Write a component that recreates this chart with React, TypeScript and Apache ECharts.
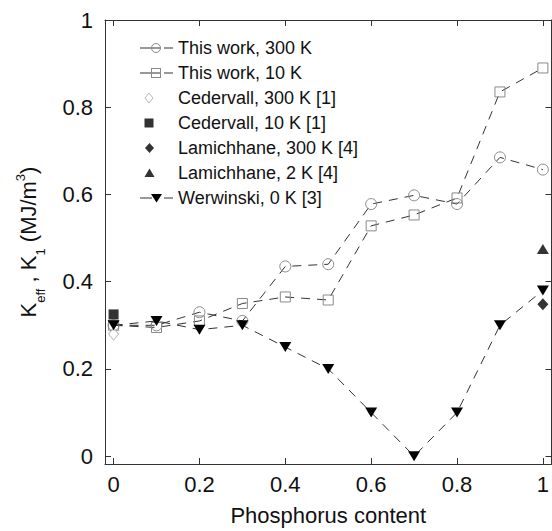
import React, { useEffect, useRef } from "react";
import * as echarts from "echarts";

const phosphorus = [0, 0.1, 0.2, 0.3, 0.4, 0.5, 0.6, 0.7, 0.8, 0.9, 1.0];
const thisWork300K = [0.3, 0.3, 0.33, 0.31, 0.435, 0.44, 0.578, 0.598, 0.578, 0.685, 0.657];
const thisWork10K = [0.3, 0.295, 0.31, 0.35, 0.365, 0.358, 0.528, 0.553, 0.592, 0.835, 0.89];
const werwinski0K = [0.3, 0.31, 0.29, 0.3, 0.25, 0.2, 0.1, 0.0, 0.1, 0.3, 0.38];
const cedervall300K = [[0, 0.28]];
const cedervall10K = [[0, 0.325]];
const lamichhane300K = [[1, 0.348]];
const lamichhane2K = [[1, 0.475]];
const tickValues = [0, 0.2, 0.4, 0.6, 0.8, 1];

const FONT = "'Liberation Sans', Arial, sans-serif";
const LINE = "#333";
const GREY = "#8a8a8a";

const svgIcon = (body: string) =>
  "image://data:image/svg+xml;charset=utf-8," +
  encodeURIComponent(
    `<svg xmlns="http://www.w3.org/2000/svg" width="33" height="14" viewBox="0 0 33 14">${body}</svg>`
  );

const icons = {
  circle: svgIcon(
    `<path d="M0 7H21M24 7H33" stroke="${LINE}" stroke-width="1" fill="none"/><circle cx="16" cy="7" r="4.5" stroke="${GREY}" stroke-width="1" fill="none"/>`
  ),
  square: svgIcon(
    `<path d="M0 7H20M24 7H33" stroke="${LINE}" stroke-width="1" fill="none"/><rect x="11.5" y="2.5" width="9" height="9" stroke="${GREY}" stroke-width="1" fill="none"/>`
  ),
  diamondOpen: svgIcon(
    `<path d="M9 2L13 7L9 12L5 7Z" stroke="#aaa" stroke-width="1" fill="#fff"/>`
  ),
  squareFilled: svgIcon(`<rect x="4.5" y="2.5" width="9" height="9" fill="#000"/>`),
  diamondFilled: svgIcon(`<path d="M9.5 2L14 7L9.5 12L5 7Z" fill="#000"/>`),
  triangleUp: svgIcon(`<path d="M9.5 2.5L14.5 11L4.5 11Z" fill="#000"/>`),
  triangleDown: svgIcon(
    `<path d="M0 7H12M24 7H33" stroke="${LINE}" stroke-width="1" fill="none"/><path d="M11 3L22 3L16.5 11.5Z" fill="#000"/>`
  ),
};

export default function App() {
  const ref = useRef<HTMLDivElement>(null);
  useEffect(() => {
    if (!ref.current) return;
    document.documentElement.style.overflow = "hidden";
    document.body.style.overflow = "hidden";
    const chart = echarts.init(ref.current, undefined, { renderer: "svg" });
    const pair = (ys: number[]) => phosphorus.map((x, i) => [x, ys[i]]);
    const dashed = { color: LINE, width: 1, type: [9, 7] as any };
    const axisCommon = {
      type: "value" as const,
      splitLine: { show: false },
      axisLine: { show: true, onZero: false, lineStyle: { color: LINE, width: 1 } },
    };
    chart.setOption({
      animation: false,
      backgroundColor: "#fff",
      grid: { left: 105, top: 20, width: 451, height: 451, containLabel: false },
      legend: {
        orient: "vertical",
        left: 135,
        top: 34,
        itemWidth: 33,
        itemHeight: 14,
        itemGap: 7,
        textStyle: { fontFamily: FONT, fontSize: 18, color: "#111" },
        data: [
          { name: "This work, 300 K", icon: icons.circle },
          { name: "This work, 10 K", icon: icons.square },
          { name: "Cedervall, 300 K [1]", icon: icons.diamondOpen },
          { name: "Cedervall, 10 K [1]", icon: icons.squareFilled },
          { name: "Lamichhane, 300 K [4]", icon: icons.diamondFilled },
          { name: "Lamichhane, 2 K [4]", icon: icons.triangleUp },
          { name: "Werwinski, 0 K [3]", icon: icons.triangleDown },
        ],
      },
      xAxis: [
        {
          ...axisCommon,
          min: -0.02,
          max: 1.02,
          position: "bottom",
          name: "Phosphorus content",
          nameLocation: "middle",
          nameGap: 40,
          nameTextStyle: { fontFamily: FONT, fontSize: 22, color: "#111" },
          axisTick: { show: true, inside: true, length: 6, customValues: tickValues, lineStyle: { color: LINE } },
          axisLabel: { show: true, margin: 9, customValues: tickValues, fontFamily: FONT, fontSize: 22, color: "#111" },
        },
        {
          ...axisCommon,
          min: -0.02,
          max: 1.02,
          position: "top",
          axisTick: { show: true, inside: true, length: 6, customValues: tickValues, lineStyle: { color: LINE } },
          axisLabel: { show: false },
        },
      ],
      yAxis: [
        {
          ...axisCommon,
          min: -0.018,
          max: 1,
          position: "left",
          name: "{a|K}{s|eff}{a| , K}{s|1}{a| (MJ/m}{p|3}{a|)}",
          nameLocation: "middle",
          nameRotate: 90,
          nameGap: 58,
          nameTextStyle: {
            fontFamily: FONT,
            color: "#111",
            rich: {
              a: { fontFamily: FONT, fontSize: 22, lineHeight: 37, verticalAlign: "middle", color: "#111" },
              s: { fontFamily: FONT, fontSize: 13, verticalAlign: "bottom", color: "#111" },
              p: { fontFamily: FONT, fontSize: 13, verticalAlign: "top", padding: [4, 0, 0, 0], color: "#111" },
            },
          },
          axisTick: { show: true, inside: true, length: 6, customValues: tickValues, lineStyle: { color: LINE } },
          axisLabel: { show: true, margin: 12, customValues: tickValues, fontFamily: FONT, fontSize: 22, color: "#111" },
        },
        {
          ...axisCommon,
          min: -0.018,
          max: 1,
          position: "right",
          axisTick: { show: true, inside: true, length: 6, customValues: tickValues, lineStyle: { color: LINE } },
          axisLabel: { show: false },
        },
      ],
      series: [
        {
          name: "This work, 300 K",
          type: "line",
          data: pair(thisWork300K),
          symbol: "circle",
          symbolSize: 11,
          showAllSymbol: true,
          lineStyle: dashed,
          itemStyle: { color: "none", borderColor: GREY, borderWidth: 1 },
          z: 2,
        },
        {
          name: "This work, 10 K",
          type: "line",
          data: pair(thisWork10K),
          symbol: "rect",
          symbolSize: 10,
          showAllSymbol: true,
          lineStyle: dashed,
          itemStyle: { color: "none", borderColor: GREY, borderWidth: 1 },
          z: 2,
        },
        {
          name: "Cedervall, 300 K [1]",
          type: "scatter",
          data: cedervall300K,
          symbol: "diamond",
          symbolSize: [10, 12],
          itemStyle: { color: "#fff", borderColor: "#aaa", borderWidth: 1 },
          z: 3,
        },
        {
          name: "Cedervall, 10 K [1]",
          type: "scatter",
          data: cedervall10K,
          symbol: "rect",
          symbolSize: 10,
          itemStyle: { color: "#000" },
          z: 3,
        },
        {
          name: "Lamichhane, 300 K [4]",
          type: "scatter",
          data: lamichhane300K,
          symbol: "diamond",
          symbolSize: [11, 12],
          itemStyle: { color: "#000" },
          z: 3,
        },
        {
          name: "Lamichhane, 2 K [4]",
          type: "scatter",
          data: lamichhane2K,
          symbol: "triangle",
          symbolSize: [12, 10],
          itemStyle: { color: "#000" },
          z: 3,
        },
        {
          name: "Werwinski, 0 K [3]",
          type: "line",
          data: pair(werwinski0K),
          symbol: "triangle",
          symbolRotate: 180,
          symbolSize: [12, 10],
          showAllSymbol: true,
          lineStyle: dashed,
          itemStyle: { color: "#000" },
          z: 4,
        },
      ],
    });
    return () => chart.dispose();
  }, []);
  return <div ref={ref} style={{ width: 552, height: 531, position: "absolute", left: 0, top: 0 }} />;
}
